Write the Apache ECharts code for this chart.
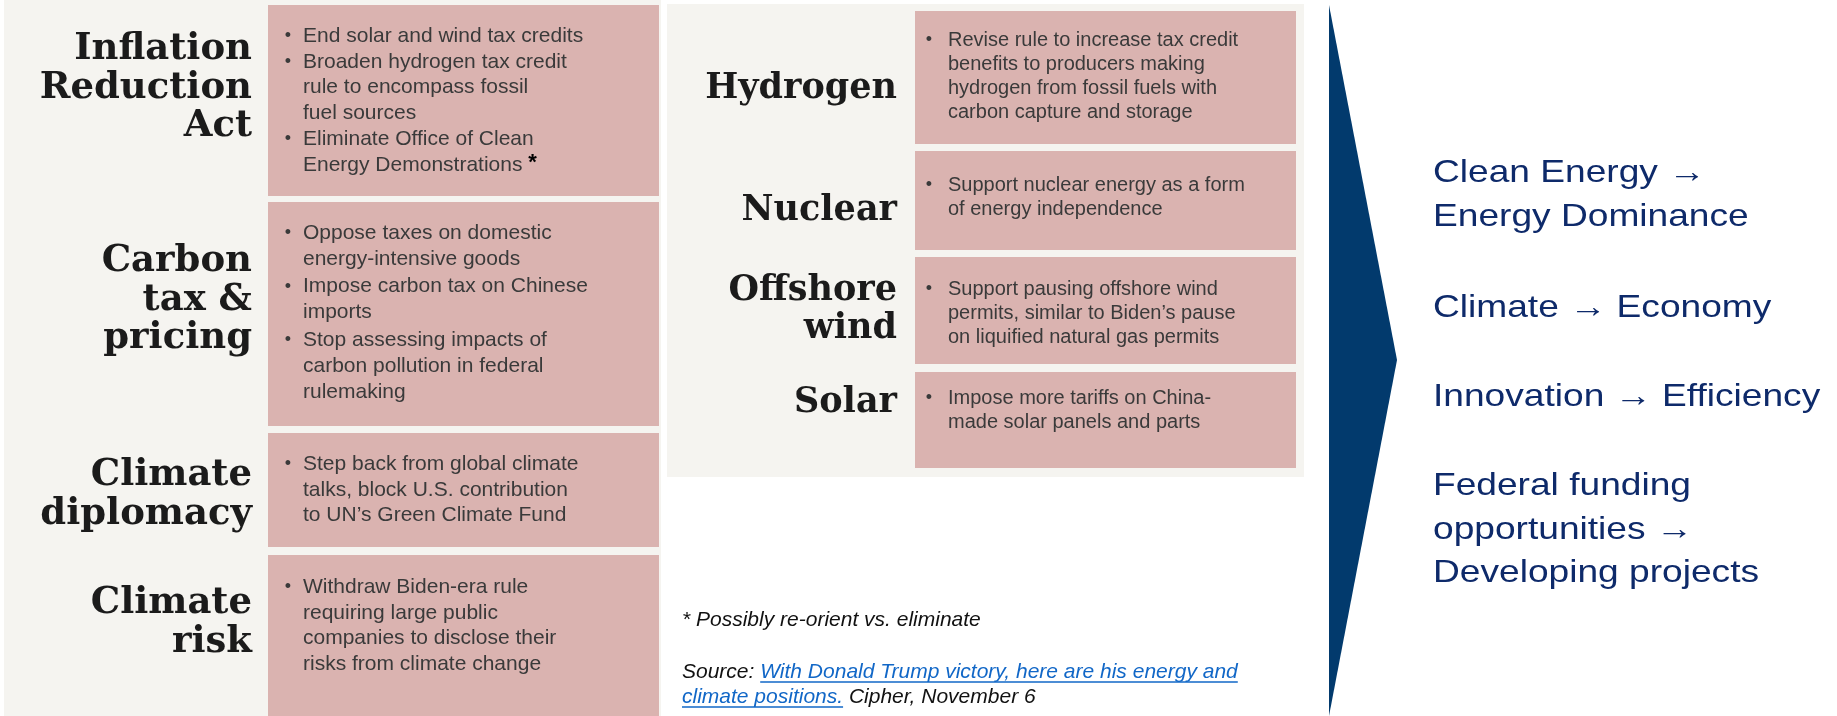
<!DOCTYPE html>
<html><head><meta charset="utf-8">
<script src="https://cdn.jsdelivr.net/npm/echarts@6/dist/echarts.min.js"></script>
<style>html,body{margin:0;padding:0;background:#fff}#c{width:1837px;height:716px}</style>
</head><body><div id="c"></div>
<script>
// ---------- content ----------
const leftTopics = ['Inflation\nReduction\nAct', 'Carbon\ntax &\npricing', 'Climate\ndiplomacy', 'Climate\nrisk'];
const leftPoints = [
  ['End solar and wind tax credits', 'Broaden hydrogen tax credit\nrule to encompass fossil\nfuel sources', 'Eliminate Office of Clean\nEnergy Demonstrations *'],
  ['Oppose taxes on domestic\nenergy-intensive goods', 'Impose carbon tax on Chinese\nimports', 'Stop assessing impacts of\ncarbon pollution in federal\nrulemaking'],
  ['Step back from global climate\ntalks, block U.S. contribution\nto UN\u2019s Green Climate Fund'],
  ['Withdraw Biden-era rule\nrequiring large public\ncompanies to disclose their\nrisks from climate change']
];
const midTopics = ['Hydrogen', 'Nuclear', 'Offshore\nwind', 'Solar'];
const midPoints = [
  ['Revise rule to increase tax credit\nbenefits to producers making\nhydrogen from fossil fuels with\ncarbon capture and storage'],
  ['Support nuclear energy as a form\nof energy independence'],
  ['Support pausing offshore wind\npermits, similar to Biden\u2019s pause\non liquified natural gas permits'],
  ['Impose more tariffs on China-\nmade solar panels and parts']
];
const shifts = ['Clean Energy \u2192\nEnergy Dominance', 'Climate \u2192 Economy', 'Innovation \u2192 Efficiency', 'Federal funding\nopportunities \u2192\nDeveloping projects'];
const footnote = '* Possibly re-orient vs. eliminate';
const sourceLabel = 'Source: ';
const sourceLink = ['With Donald Trump victory, here are his energy and', 'climate positions.'];
const sourceTail = ' Cipher, November 6';

// ---------- layout ----------
const leftBoxY = [[5, 196], [202, 426], [433, 547], [555, 716]];
const leftFirst = [36, 233, 464, 587];
const leftGap = [0, 2, 0, 0];
const leftLabelY = [88, 300, 495, 623];
const midBoxY = [[11, 144], [151, 250], [257, 364], [372, 468]];
const midFirst = [40, 185, 289, 398];
const midLabelY = [89, 211, 310, 403];
const shiftY = [195, 308, 397, 530];

const PINK = '#dab3b0', BEIGE = '#f5f4f0', NAVY = '#023a6d', TXT = '#3a3a3a';
const els = [];

els.push({type: 'rect', shape: {x: 4, y: 0, width: 657, height: 716}, style: {fill: BEIGE}, silent: true});
els.push({type: 'rect', shape: {x: 667, y: 4, width: 637, height: 473}, style: {fill: BEIGE}, silent: true});

function block(boxes, firsts, gaps, labels, labelYs, points, opt) {
  boxes.forEach((b, i) => {
    els.push({type: 'rect', shape: {x: opt.boxX, y: b[0], width: opt.boxW, height: b[1] - b[0]}, style: {fill: PINK}});
    els.push({type: 'text', x: opt.labelX, y: labelYs[i], style: {
      text: labels[i], fill: '#1b1b1b', font: 'bold ' + opt.lfs + 'px "DejaVu Serif"', fontWeight: 'bold', fontSize: opt.lfs, fontFamily: 'DejaVu Serif',
      align: 'right', textAlign: 'right', verticalAlign: 'middle', textVerticalAlign: 'middle', lineHeight: 38.5}});
    let y = firsts[i] - opt.lh / 2;
    points[i].forEach(p => {
      const n = p.split('\n').length;
      els.push({type: 'text', x: opt.bulletX, y: y + opt.lh / 2, style: {
        text: '\u2022', fill: TXT, fontSize: 18, fontFamily: 'Liberation Sans', align: 'center', textAlign: 'center', verticalAlign: 'middle', textVerticalAlign: 'middle'}});
      const rt = p.replace(/ \*$/, ' {s|*}');
      els.push({type: 'text', x: opt.textX, y: y, style: {
        text: rt, fill: TXT, fontSize: opt.fs, fontFamily: 'Liberation Sans', lineHeight: opt.lh,
        align: 'left', textAlign: 'left', verticalAlign: 'top', textVerticalAlign: 'top',
        rich: {s: {fill: '#000', fontWeight: 'bold', fontSize: opt.fs + 1, fontFamily: 'Liberation Sans', lineHeight: opt.lh, verticalAlign: 'top'}}}});
      y += n * opt.lh + (gaps ? gaps[i] : 0);
    });
  });
}
block(leftBoxY, leftFirst, leftGap, leftTopics, leftLabelY, leftPoints,
  {boxX: 268, boxW: 391, labelX: 252, bulletX: 288, textX: 303, fs: 21, lh: 25.8, lfs: 37});
block(midBoxY, midFirst, null, midTopics, midLabelY, midPoints,
  {boxX: 915, boxW: 381, labelX: 897, bulletX: 929, textX: 948, fs: 20, lh: 24.3, lfs: 35});

// footnote and source
const FN = 'italic 21px "Liberation Sans"';
els.push({type: 'text', x: 682, y: 620, style: {text: footnote, fill: '#111', font: FN, fontStyle: 'italic', fontSize: 21, fontFamily: 'Liberation Sans', verticalAlign: 'middle', textVerticalAlign: 'middle'}});
const cv = document.createElement('canvas').getContext('2d');
cv.font = FN;
const w0 = cv.measureText(sourceLabel).width;
const w1 = cv.measureText(sourceLink[0]).width;
const w2 = cv.measureText(sourceLink[1]).width;
const srcY = [672, 697];
els.push({type: 'text', x: 682, y: srcY[0], style: {text: sourceLabel, fill: '#111', font: FN, fontStyle: 'italic', fontSize: 21, fontFamily: 'Liberation Sans', verticalAlign: 'middle', textVerticalAlign: 'middle'}});
els.push({type: 'text', x: 682 + w0, y: srcY[0], style: {text: sourceLink[0], fill: '#1167c7', font: FN, fontStyle: 'italic', fontSize: 21, fontFamily: 'Liberation Sans', verticalAlign: 'middle', textVerticalAlign: 'middle'}});
els.push({type: 'text', x: 682, y: srcY[1], style: {text: sourceLink[1], fill: '#1167c7', font: FN, fontStyle: 'italic', fontSize: 21, fontFamily: 'Liberation Sans', verticalAlign: 'middle', textVerticalAlign: 'middle'}});
els.push({type: 'text', x: 682 + w2, y: srcY[1], style: {text: sourceTail, fill: '#111', font: FN, fontStyle: 'italic', fontSize: 21, fontFamily: 'Liberation Sans', verticalAlign: 'middle', textVerticalAlign: 'middle'}});
els.push({type: 'line', shape: {x1: 682 + w0, y1: srcY[0] + 10, x2: 682 + w0 + w1, y2: srcY[0] + 10}, style: {stroke: '#1167c7', lineWidth: 1.5}});
els.push({type: 'line', shape: {x1: 682, y1: srcY[1] + 10, x2: 682 + w2, y2: srcY[1] + 10}, style: {stroke: '#1167c7', lineWidth: 1.5}});

// chevron
els.push({type: 'polygon', shape: {points: [[1329, 5], [1397, 360], [1329, 716]]}, style: {fill: NAVY}});

// right side shifts
shifts.forEach((s, i) => {
  els.push({type: 'text', x: 1433, y: shiftY[i], scaleX: 1.16, style: {
    text: s, fill: '#0e2a6a', fontSize: 32, fontFamily: 'Liberation Sans', lineHeight: 43.5,
    align: 'left', textAlign: 'left', verticalAlign: 'middle', textVerticalAlign: 'middle'}});
});

const chart = echarts.init(document.getElementById('c'), null, {renderer: 'canvas'});
chart.setOption({backgroundColor: '#fff', animation: false, graphic: {elements: els}});
</script></body></html>
